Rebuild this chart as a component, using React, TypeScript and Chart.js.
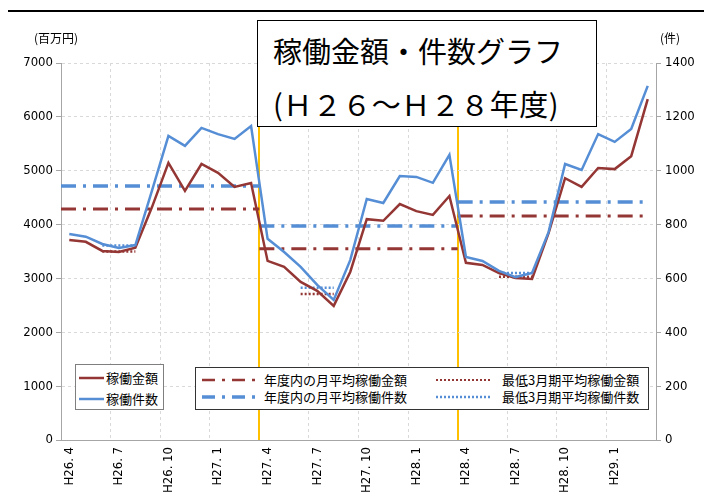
import React, { useEffect, useRef } from "react";
import { Chart, registerables } from "chart.js";

Chart.register(...registerables);

const months = [
  "H26. 4", "H26. 5", "H26. 6", "H26. 7", "H26. 8", "H26. 9",
  "H26. 10", "H26. 11", "H26. 12", "H27. 1", "H27. 2", "H27. 3",
  "H27. 4", "H27. 5", "H27. 6", "H27. 7", "H27. 8", "H27. 9",
  "H27. 10", "H27. 11", "H27. 12", "H28. 1", "H28. 2", "H28. 3",
  "H28. 4", "H28. 5", "H28. 6", "H28. 7", "H28. 8", "H28. 9",
  "H28. 10", "H28. 11", "H28. 12", "H29. 1", "H29. 2", "H29. 3",
];

// 稼働金額 (百万円)
const amount = [
  3714, 3680, 3510, 3490, 3570, 4320, 5145, 4625, 5125, 4960, 4700, 4770,
  3325, 3215, 2935, 2770, 2490, 3120, 4100, 4070, 4380, 4250, 4180, 4530,
  3290, 3250, 3100, 3010, 2990, 3840, 4860, 4700, 5050, 5030, 5270, 6330,
];

// 稼働件数 (件)
const count = [
  765, 755, 728, 713, 724, 925, 1129, 1092, 1159, 1136, 1118, 1166,
  747, 698, 643, 576, 520, 668, 895, 880, 980, 977, 955, 1059,
  680, 665, 628, 605, 620, 772, 1025, 1003, 1136, 1107, 1155, 1315,
];

// 年度ごとの月平均 (H26, H27, H28)
const fyFirstMonth = [0, 12, 24];
const fyLastMonth = [11, 23, 35];
const fyAvgAmount = [4290, 3550, 4160];
const fyAvgCount = [943, 795, 884];

// 最低3月期平均
const lowFirstMonth = [2, 14, 26];
const lowLastMonth = [4, 16, 28];
const lowAvgAmount = [3500, 2710, 3030];
const lowAvgCount = [722, 565, 620];

const RED = "#943634";
const BLUE = "#558ED5";
const YELLOW = "#FFC000";
const AXIS = "#A6A6A6";
const GRID = "#D9D9D9";
const NUM_FONT = "'Liberation Sans Narrow', 'DejaVu Sans Condensed', sans-serif";
const JP_FONT = "'Noto Sans CJK JP', 'Noto Sans', sans-serif";

function fySegments(values: number[]) {
  const pts: any[] = [];
  values.forEach((v, k) => {
    const x0 = fyFirstMonth[k] - 0.5;
    const x1 = k === values.length - 1 ? fyLastMonth[k] : fyLastMonth[k] + 0.5;
    pts.push({ x: x0, y: v }, { x: x1, y: v }, { x: x1, y: null });
  });
  return pts;
}

function lowSegments(values: number[]) {
  const pts: any[] = [];
  values.forEach((v, k) => {
    pts.push(
      { x: lowFirstMonth[k], y: v },
      { x: lowLastMonth[k], y: v },
      { x: lowLastMonth[k] + 0.5, y: null }
    );
  });
  return pts;
}

function ChartCanvas() {
  const ref = useRef<HTMLCanvasElement | null>(null);
  useEffect(() => {
    if (!ref.current) return;
    const fyBoundary = fyFirstMonth.slice(1);
    const chart = new Chart(ref.current, {
      type: "line",
      data: {
        labels: months,
        datasets: [
          {
            label: "稼働金額",
            data: amount,
            xAxisID: "x",
            yAxisID: "y",
            borderColor: RED,
            borderWidth: 2.5,
            pointRadius: 0,
            tension: 0,
            order: 1,
          },
          {
            label: "稼働件数",
            data: count,
            xAxisID: "x",
            yAxisID: "y2",
            borderColor: BLUE,
            borderWidth: 2.5,
            pointRadius: 0,
            tension: 0,
            order: 0,
          },
          {
            label: "年度内の月平均稼働金額",
            data: fySegments(fyAvgAmount),
            xAxisID: "x2",
            yAxisID: "y",
            borderColor: RED,
            borderWidth: 3,
            borderDash: [15, 7, 3, 7],
            pointRadius: 0,
            spanGaps: false,
            order: 3,
          },
          {
            label: "年度内の月平均稼働件数",
            data: fySegments(fyAvgCount),
            xAxisID: "x2",
            yAxisID: "y2",
            borderColor: BLUE,
            borderWidth: 3.5,
            borderDash: [15, 7, 3, 7],
            pointRadius: 0,
            spanGaps: false,
            order: 3,
          },
          {
            label: "最低3月期平均稼働金額",
            data: lowSegments(lowAvgAmount),
            xAxisID: "x2",
            yAxisID: "y",
            borderColor: RED,
            borderWidth: 2.5,
            borderDash: [2, 2],
            pointRadius: 0,
            spanGaps: false,
            order: 3,
          },
          {
            label: "最低3月期平均稼働件数",
            data: lowSegments(lowAvgCount),
            xAxisID: "x2",
            yAxisID: "y2",
            borderColor: BLUE,
            borderWidth: 2.5,
            borderDash: [2, 2],
            pointRadius: 0,
            spanGaps: false,
            order: 3,
          },
        ],
      },
      options: {
        responsive: false,
        animation: false,
        events: [],
        layout: { padding: { top: 63, left: 0, right: 0, bottom: 0 } },
        plugins: { legend: { display: false }, tooltip: { enabled: false }, title: { display: false } },
        scales: {
          x: {
            type: "category",
            offset: true,
            grid: {
              offset: true,
              drawTicks: false,
              color: (ctx: any) => {
                const i = ctx.index;
                if (i === undefined || i === 0) return "rgba(0,0,0,0)";
                if (fyBoundary.includes(i)) return YELLOW;
                return i % 3 === 0 ? GRID : "rgba(0,0,0,0)";
              },
              lineWidth: (ctx: any) => (fyBoundary.includes(ctx.index) ? 2 : 1),
            },
            border: {
              color: AXIS,
              width: 1,
              dash: (ctx: any) => (fyBoundary.includes(ctx.index) ? [] : [3, 3]),
            },
            ticks: {
              autoSkip: false,
              minRotation: 90,
              maxRotation: 90,
              padding: 7,
              color: "#000",
              font: { family: NUM_FONT, size: 13 },
              callback: (_v: any, i: number) => (i % 3 === 0 ? months[i] : ""),
            },
            afterFit: (s: any) => {
              s.height = 62;
            },
          },
          x2: {
            type: "linear",
            display: false,
            min: -0.5,
            max: 35.5,
          },
          y: {
            position: "left",
            min: 0,
            max: 7000,
            ticks: {
              stepSize: 1000,
              padding: 3,
              color: "#000",
              font: { family: NUM_FONT, size: 13 },
              callback: (v: any) => String(v),
            },
            grid: { color: GRID, tickColor: AXIS, tickLength: 5, drawTicks: true },
            border: { color: AXIS, width: 1, dash: [3, 3] },
            afterFit: (s: any) => {
              s.width = 61;
            },
          },
          y2: {
            position: "right",
            min: 0,
            max: 1400,
            ticks: {
              stepSize: 200,
              padding: 4,
              color: "#000",
              font: { family: NUM_FONT, size: 13 },
              callback: (v: any) => String(v),
            },
            grid: { drawOnChartArea: false, tickColor: AXIS, tickLength: 5 },
            border: { color: AXIS, width: 1 },
            afterFit: (s: any) => {
              s.width = 56;
            },
          },
        },
      } as any,
    });
    return () => chart.destroy();
  }, []);
  return (
    <canvas
      ref={ref}
      width={712}
      height={502}
      style={{ position: "absolute", left: -8, top: -8, width: 712, height: 502, zIndex: 1 }}
    />
  );
}

function LineSample({ color, width, dash, len }: { color: string; width: number; dash?: string; len: number }) {
  return (
    <svg width={len} height={8} style={{ display: "block" }}>
      <line x1={0} y1={4} x2={len} y2={4} stroke={color} strokeWidth={width} strokeDasharray={dash} />
    </svg>
  );
}

const legendText: React.CSSProperties = {
  position: "absolute",
  fontFamily: JP_FONT,
  fontSize: 13,
  lineHeight: "16px",
  color: "#000",
  whiteSpace: "nowrap",
};

export default function App() {
  // page coordinates = container coordinates + 8 (body margin)
  const P = (v: number) => v - 8;
  return (
    <div style={{ position: "relative", width: 696, height: 486, fontFamily: JP_FONT }}>
      <div style={{ position: "absolute", left: P(4), top: P(10), width: 703, height: 2, background: "#000", zIndex: 3 }} />
      <div style={{ position: "absolute", left: P(4), top: P(10), width: 2, height: 488, background: "#000", zIndex: 3 }} />
      <div style={{ position: "absolute", left: P(705), top: P(10), width: 2, height: 488, background: "#000", zIndex: 3 }} />
      <div style={{ position: "absolute", left: P(4), top: P(496), width: 703, height: 3, background: "#BFBFBF", zIndex: 3 }} />
      <ChartCanvas />
      <div style={{ position: "absolute", left: P(34), top: P(30), fontSize: 12, lineHeight: "16px", zIndex: 2 }}>
        (百万円)
      </div>
      <div style={{ position: "absolute", left: P(660), top: P(30), fontSize: 12, lineHeight: "16px", zIndex: 2 }}>
        (件)
      </div>
      {/* title box */}
      <div
        style={{
          position: "absolute",
          left: P(257),
          top: P(20),
          width: 340,
          height: 107,
          boxSizing: "border-box",
          border: "1.5px solid #000",
          background: "#fff",
          zIndex: 2,
        }}
      >
        <div style={{ position: "absolute", left: 15, top: 11, fontSize: 29, lineHeight: "36px", whiteSpace: "nowrap" }}>
          稼働金額・件数グラフ
        </div>
        <div
          style={{
            position: "absolute",
            left: 15,
            top: 64,
            fontSize: 29,
            lineHeight: "36px",
            whiteSpace: "nowrap",
            letterSpacing: "0.5px",
          }}
        >
          (Ｈ２６～Ｈ２８年度)
        </div>
      </div>
      {/* legend 1 */}
      <div
        style={{
          position: "absolute",
          left: P(75),
          top: P(364),
          width: 89,
          height: 46,
          boxSizing: "border-box",
          border: "1px solid #7F7F7F",
          background: "#fff",
          zIndex: 2,
        }}
      >
        <div style={{ position: "absolute", left: 3, top: 9 }}>
          <LineSample color={RED} width={2.5} len={25} />
        </div>
        <div style={{ ...legendText, left: 30, top: 5 }}>稼働金額</div>
        <div style={{ position: "absolute", left: 3, top: 30 }}>
          <LineSample color={BLUE} width={2.5} len={25} />
        </div>
        <div style={{ ...legendText, left: 30, top: 26 }}>稼働件数</div>
      </div>
      {/* legend 2 */}
      <div
        style={{
          position: "absolute",
          left: P(195),
          top: P(367),
          width: 454,
          height: 43,
          boxSizing: "border-box",
          border: "1.5px solid #333",
          background: "#fff",
          zIndex: 2,
        }}
      >
        <div style={{ position: "absolute", left: 6, top: 8 }}>
          <LineSample color={RED} width={2.5} dash="13 7 3 7" len={54} />
        </div>
        <div style={{ ...legendText, left: 68, top: 4 }}>年度内の月平均稼働金額</div>
        <div style={{ position: "absolute", left: 6, top: 25 }}>
          <LineSample color={BLUE} width={3.5} dash="13 7 3 7" len={54} />
        </div>
        <div style={{ ...legendText, left: 68, top: 21 }}>年度内の月平均稼働件数</div>
        <div style={{ position: "absolute", left: 240, top: 8 }}>
          <LineSample color={RED} width={2} dash="2 2" len={56} />
        </div>
        <div style={{ ...legendText, left: 306, top: 4 }}>最低3月期平均稼働金額</div>
        <div style={{ position: "absolute", left: 240, top: 25 }}>
          <LineSample color={BLUE} width={2.5} dash="2 2" len={56} />
        </div>
        <div style={{ ...legendText, left: 306, top: 21 }}>最低3月期平均稼働件数</div>
      </div>
    </div>
  );
}
